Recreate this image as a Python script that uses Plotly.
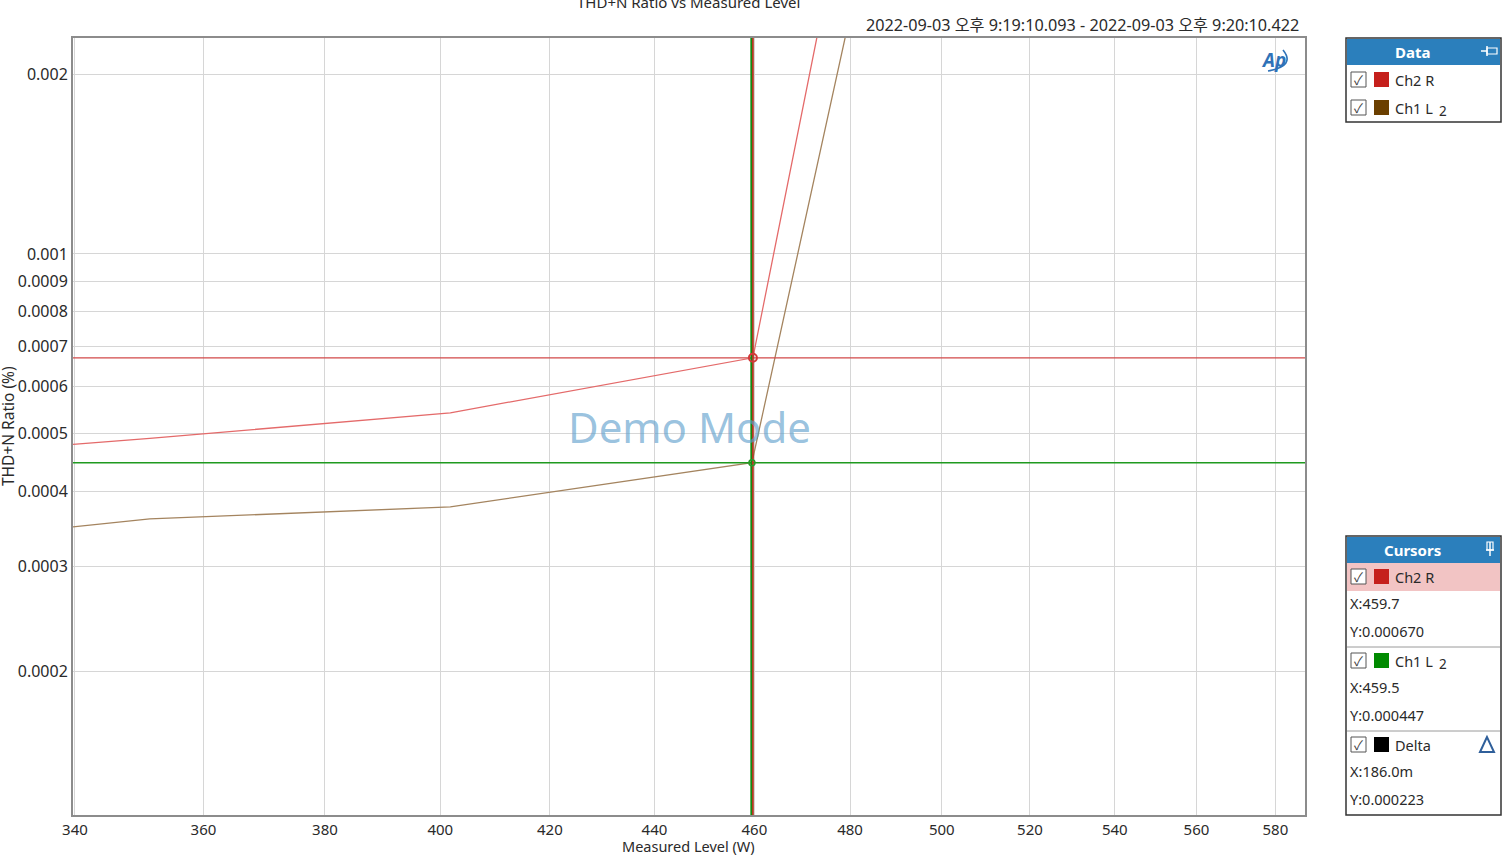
import plotly.graph_objects as go
import math

# ---------------- data ----------------
ch2r_x = [339.7, 351.5, 401.8, 459.7, 480.0]
ch2r_y = [0.000480, 0.000491, 0.000542, 0.000670, 0.00437]
ch1l_x = [339.7, 351.5, 401.8, 459.5, 500.0]
ch1l_y = [0.000349, 0.000360, 0.000377, 0.000447, 0.0126]

x_ticks = [340, 360, 380, 400, 420, 440, 460, 480, 500, 520, 540, 560, 580]
y_ticks = [0.0002, 0.0003, 0.0004, 0.0005, 0.0006, 0.0007, 0.0008, 0.0009, 0.001, 0.002]
y_ticktext = ["0.0002", "0.0003", "0.0004", "0.0005", "0.0006", "0.0007",
              "0.0008", "0.0009", "0.001", "0.002"]

x_range = [339.7, 587.7]
y_range = [0.0001149, 0.0023]

cursor_x = [459.7, 459.5]
cursor_y = [0.000670, 0.000447]
delta_x_label = "186.0m"
delta_y = 0.000223

title_text = "THD+N Ratio vs Measured Level"
time_text = "2022-09-03 오후 9:19:10.093 - 2022-09-03 오후 9:20:10.422"

# ---------------- styling ----------------
W, H = 1507, 858
ML, MR, MT, MB = 73, 202, 38, 43
PW, PH = W - ML - MR, H - MT - MB
FONT = "Segoe UI, Noto Sans, Noto Sans CJK KR, sans-serif"
RED_LINE = "#e46a6a"
BROWN_LINE = "#a4845f"
HEADER = "#2b7fbc"
TXT = "#2a2a2a"


def px(x):
    return (x - ML) / PW


def py(y):
    return (H - MB - y) / PH


fig = go.Figure()

fig.add_trace(go.Scatter(x=ch1l_x, y=ch1l_y, mode="lines",
                         line=dict(color=BROWN_LINE, width=1.3), name="Ch1 L 2"))
fig.add_trace(go.Scatter(x=ch2r_x, y=ch2r_y, mode="lines",
                         line=dict(color=RED_LINE, width=1.3), name="Ch2 R"))

cur_col_h = ["#d24848", "#1f9a1f"]
cur_col_v = ["#d62828", "#138a13"]
cur_w_v = [1.5, 3.2]
for cy, ch in zip(cursor_y, cur_col_h):
    fig.add_trace(go.Scatter(x=x_range, y=[cy, cy], mode="lines",
                             line=dict(color=ch, width=1.3), hoverinfo="skip"))
for cx, cv, wv in zip(cursor_x[::-1], cur_col_v[::-1], cur_w_v[::-1]):
    fig.add_trace(go.Scatter(x=[cx, cx], y=y_range, mode="lines",
                             line=dict(color=cv, width=wv), hoverinfo="skip"))
fig.add_trace(go.Scatter(x=[cursor_x[0]], y=[cursor_y[0]], mode="markers",
                         marker=dict(symbol="circle-open", size=8, color="#d23a3a",
                                     line=dict(width=2, color="#d23a3a"))))
fig.add_trace(go.Scatter(x=[cursor_x[1]], y=[cursor_y[1]], mode="markers",
                         marker=dict(symbol="circle-open", size=6, color="#2a9a2a",
                                     line=dict(width=1.5, color="#2a9a2a"))))

shapes = []
ann = []


def text(x, y, s, size=14, color=TXT, anchor="left", bold=False, angle=0):
    ann.append(dict(xref="paper", yref="paper", x=px(x), y=py(y),
                    text=("<b>%s</b>" % s) if bold else s, textangle=angle,
                    showarrow=False, xanchor=anchor, yanchor="middle",
                    font=dict(size=size, color=color, family=FONT)))


def rect(x0, y0, x1, y1, fill=None, line=None, lw=1):
    shapes.append(dict(type="rect", xref="paper", yref="paper",
                       x0=px(x0), x1=px(x1), y0=py(y1), y1=py(y0),
                       fillcolor=fill if fill else "rgba(0,0,0,0)",
                       line=dict(color=line if line else "rgba(0,0,0,0)", width=lw if line else 0),
                       layer="above"))


def hline(x0, x1, y, color, lw=1):
    shapes.append(dict(type="line", xref="paper", yref="paper",
                       x0=px(x0), x1=px(x1), y0=py(y), y1=py(y),
                       line=dict(color=color, width=lw), layer="above"))


def vline(x, y0, y1, color, lw=1):
    shapes.append(dict(type="line", xref="paper", yref="paper",
                       x0=px(x), x1=px(x), y0=py(y0), y1=py(y1),
                       line=dict(color=color, width=lw), layer="above"))


# title & timestamp
text(688, 2, title_text, size=15, anchor="center")
text(1301, 25, time_text, size=16.2, anchor="right")
# axis titles
text(688, 846, "Measured Level (W)", size=14.5, anchor="center")
text(8, 426, "THD+N Ratio (%)", size=15.5, anchor="center", angle=-90)
# watermark
text(689, 427, "Demo Mode", size=42, color="rgba(95,160,205,0.65)", anchor="center")
# AP logo
text(1273, 60, "<i>Ap</i>", size=19, color="#2f72b8", anchor="center", bold=True)
shapes.append(dict(type="path", xref="paper", yref="paper",
                   path="M %f %f Q %f %f %f %f" % (px(1268), py(71), px(1296), py(66),
                                                   px(1283), py(50)),
                   line=dict(color="#2f72b8", width=1.6), fillcolor="rgba(0,0,0,0)",
                   layer="above"))


def checkbox(y):
    rect(1351, y - 8, 1366, y + 7, fill="white", line="#555555", lw=1)
    text(1358.5, y, "✓", size=13, color="#444444", anchor="center")


def label_row(y, swatch, name):
    checkbox(y)
    rect(1374, y - 8, 1389, y + 7, fill=swatch)
    if name.endswith(" 2"):
        text(1393, y, name[:-2], size=14.5)
        text(1437, y + 3, "2", size=13.5)
    else:
        text(1393, y, name, size=14.5)


# ---- Data panel ----
rect(1346, 38, 1501, 122, fill="white", line="#333333", lw=1.5)
rect(1347, 39, 1500, 65, fill=HEADER)
text(1413, 52, "Data", size=15, color="white", anchor="center", bold=True)
hline(1481, 1487, 51, "white", 1.5)
vline(1487, 46, 56, "white", 1.5)
rect(1487, 48, 1497, 54, line="white", lw=1.2)
label_row(80, "#c5201c", "Ch2 R")
label_row(108, "#6b3f00", "Ch1 L 2")

# ---- Cursors panel ----
rect(1346, 536, 1501, 815, fill="white", line="#333333", lw=1.5)
rect(1347, 537, 1500, 563, fill=HEADER)
text(1413, 550, "Cursors", size=15, color="white", anchor="center", bold=True)
vline(1490, 542, 556, "white", 1.5)
rect(1487, 542, 1493, 550, line="white", lw=1.2)
hline(1486, 1494, 550, "white", 1.5)
rect(1347, 563, 1500, 591, fill="#f2c4c4")

cur_swatches = ["#c5201c", "#008a00"]
cur_labels = ["Ch2 R", "Ch1 L 2"]
row_tops = [577, 661]
for i in range(2):
    y0 = row_tops[i]
    label_row(y0, cur_swatches[i], cur_labels[i])
    text(1348, y0 + 26, "X:%.1f" % cursor_x[i], size=14.5)
    text(1348, y0 + 54, "Y:%.6f" % cursor_y[i], size=14.5)
hline(1347, 1500, 647, "#9a9a9a", 1)
hline(1347, 1500, 731, "#9a9a9a", 1)
label_row(745, "#000000", "Delta")
text(1348, 771, "X:" + delta_x_label, size=14.5)
text(1348, 799, "Y:%.6f" % delta_y, size=14.5)
shapes.append(dict(type="path", xref="paper", yref="paper",
                   path="M %f %f L %f %f L %f %f Z" % (px(1487), py(737), px(1480), py(752),
                                                       px(1494), py(752)),
                   line=dict(color="#2f5f9a", width=2), fillcolor="rgba(0,0,0,0)",
                   layer="above"))

fig.update_layout(
    width=W, height=H,
    margin=dict(l=ML, r=MR, t=MT, b=MB, pad=0),
    paper_bgcolor="white", plot_bgcolor="white",
    showlegend=False,
    font=dict(family=FONT, size=14, color=TXT),
    shapes=shapes, annotations=ann,
    xaxis=dict(type="log", range=[math.log10(v) for v in x_range],
               tickvals=x_ticks, ticktext=[str(v) for v in x_ticks],
               showgrid=True, gridcolor="#d6d6d6", gridwidth=1,
               showline=True, linecolor="#8c8c8c", linewidth=1.5, mirror=True,
               ticks="", ticklabelstandoff=0,
               tickfont=dict(size=15, color=TXT, family=FONT)),
    yaxis=dict(type="log", range=[math.log10(v) for v in y_range],
               tickvals=y_ticks, ticktext=y_ticktext,
               showgrid=True, gridcolor="#d6d6d6", gridwidth=1,
               showline=True, linecolor="#8c8c8c", linewidth=2, mirror=True,
               ticks="", ticklabelstandoff=0,
               tickfont=dict(size=16, color=TXT, family=FONT)),
)

fig.write_html("out.html", config={"displayModeBar": False},
               post_script="document.body.style.margin='0';document.body.style.overflow='hidden';")
